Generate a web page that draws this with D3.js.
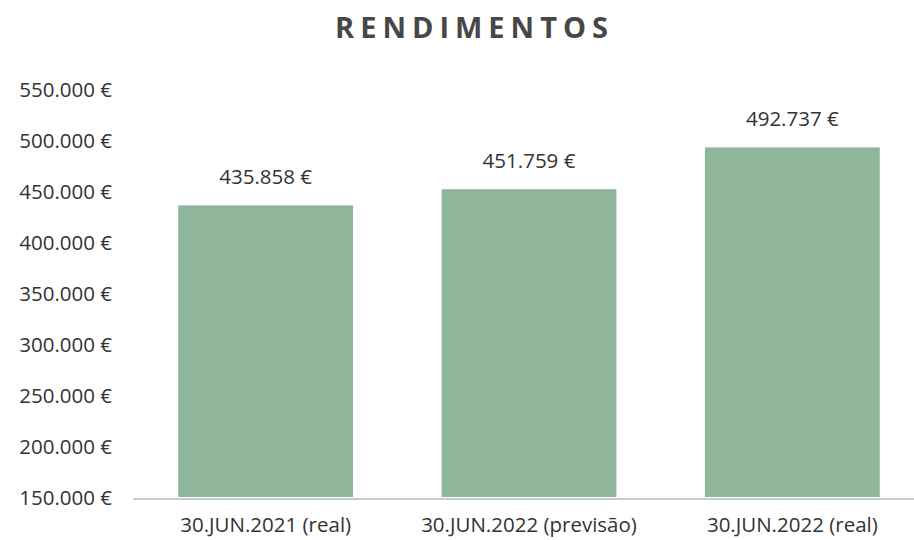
<!DOCTYPE html>
<html><head><meta charset="utf-8">
<script src="https://cdn.jsdelivr.net/npm/d3@7"></script>
<style>body{margin:0;background:#fff}svg{display:block}</style>
</head><body>
<svg id="c" width="914" height="540"></svg>
<script>
const categories = ["30.JUN.2021 (real)", "30.JUN.2022 (previsão)", "30.JUN.2022 (real)"];
const values = [435858, 451759, 492737];
const yTicks = [150000, 200000, 250000, 300000, 350000, 400000, 450000, 500000, 550000];
const title = "RENDIMENTOS";

const svg = d3.select("#c");
const fmt = v => d3.format(",")(v).replace(/,/g, ".") + " €";
const font = "'Open Sans', sans-serif";

const x = d3.scaleBand().domain(categories).range([134, 924]).paddingInner(0.336).paddingOuter(0.168);
const y = d3.scaleLinear().domain([150000, 550000]).range([497, 89]);

svg.append("text").attr("x", 471.5).attr("y", 38).attr("text-anchor", "middle")
  .attr("font-family", font).attr("font-weight", "bold").attr("font-size", 29)
  .attr("textLength", 273).attr("lengthAdjust", "spacing")
  .attr("fill", "#474747").text(title);

const yAxis = svg.append("g").attr("transform", "translate(112,0)")
  .call(d3.axisLeft(y).tickValues(yTicks).tickFormat(fmt).tickSize(0).tickPadding(0));
yAxis.select(".domain").remove();
yAxis.selectAll("text").attr("font-family", font).attr("font-size", 20.5).attr("fill", "#333").attr("dy", "0.35em");

svg.selectAll("rect.bar").data(values).join("rect").attr("class", "bar")
  .attr("x", (d, i) => x(categories[i])).attr("width", x.bandwidth())
  .attr("y", d => y(d)).attr("height", d => y(150000) - y(d))
  .attr("fill", "#8fb59b");

svg.selectAll("text.val").data(values).join("text").attr("class", "val")
  .attr("x", (d, i) => x(categories[i]) + x.bandwidth() / 2)
  .attr("y", d => y(d) - 21).attr("text-anchor", "middle")
  .attr("font-family", font).attr("font-size", 20.5).attr("fill", "#333").text(fmt);

const xAxis = svg.append("g").attr("transform", "translate(0,499)")
  .call(d3.axisBottom(x).tickSize(0).tickPadding(0));
xAxis.select(".domain").attr("d", "M133,0H914").attr("stroke", "#c6cad1").attr("stroke-width", 2);
xAxis.selectAll("text").attr("font-family", font).attr("font-size", 20.5).attr("fill", "#333")
  .attr("dy", null).attr("y", 33);
</script>
</body></html>
